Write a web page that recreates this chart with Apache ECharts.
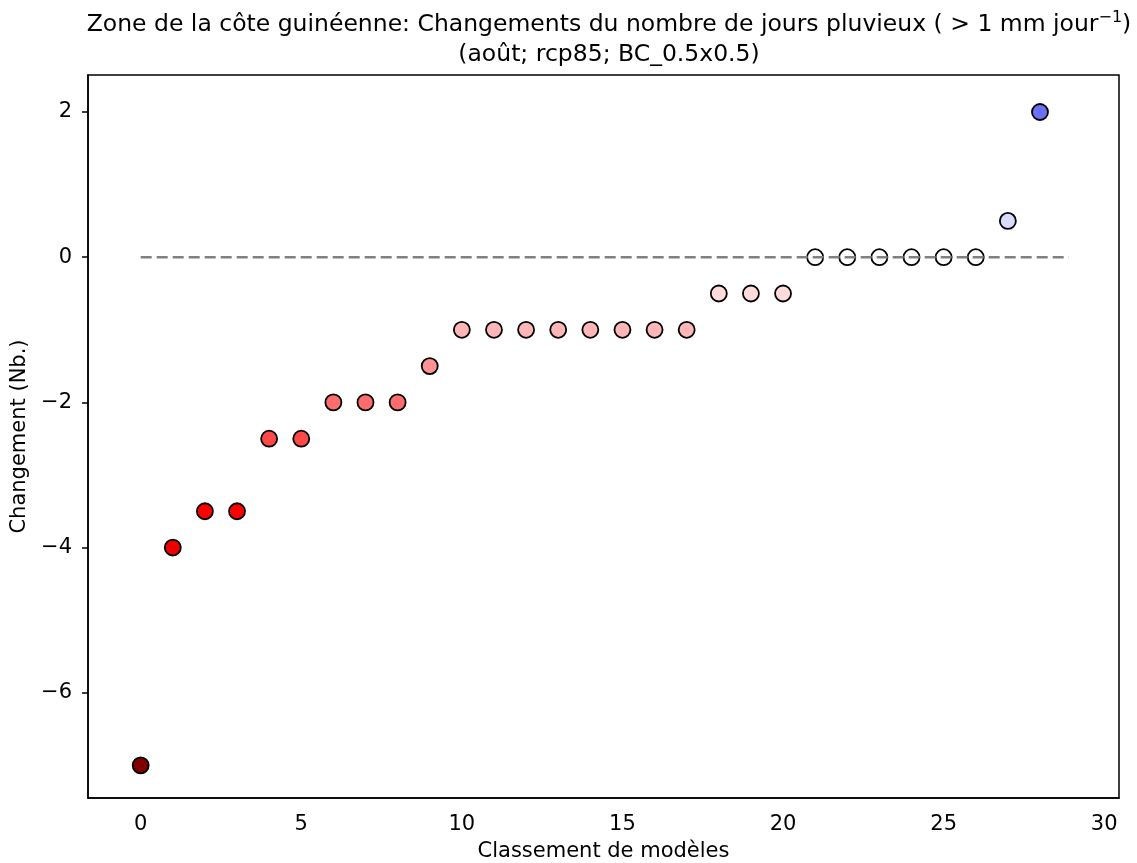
<!DOCTYPE html>
<html>
<head>
<meta charset="utf-8">
<script src="https://cdn.jsdelivr.net/npm/echarts@6/dist/echarts.min.js"></script>
<style>
  html, body { margin: 0; padding: 0; background: #fff; }
  #main { width: 1137px; height: 863px; }
</style>
</head>
<body>
<div id="main"></div>
<script>
// model rank -> change in number of rainy days
const ranks = [0, 1, 2, 3, 4, 5, 6, 7, 8, 9, 10, 11, 12, 13, 14, 15, 16, 17, 18, 19, 20, 21, 22, 23, 24, 25, 26, 27, 28];
const changes = [-7, -4, -3.5, -3.5, -2.5, -2.5, -2, -2, -2, -1.5, -1, -1, -1, -1, -1, -1, -1, -1, -0.5, -0.5, -0.5, 0, 0, 0, 0, 0, 0, 0.5, 2];
const pointColors = [
  "#800000", "#ed0000", "#ff0000", "#ff0000", "#ff4949", "#ff4949", "#ff6d6d", "#ff6d6d", "#ff6d6d", "#ff9292",
  "#ffb6b6", "#ffb6b6", "#ffb6b6", "#ffb6b6", "#ffb6b6", "#ffb6b6", "#ffb6b6", "#ffb6b6",
  "#ffdbdb", "#ffdbdb", "#ffdbdb", "#ffffff", "#ffffff", "#ffffff", "#ffffff", "#ffffff", "#ffffff",
  "#dbdbff", "#6d6dff"
];
const zeroLine = [[0, 0], [28.9, 0]];
const xTicks = [0, 5, 10, 15, 20, 25, 30];
const yTicks = [-6, -4, -2, 0, 2];

const font = "DejaVu Sans";
const minus = (v) => String(v).replace("-", "\u2212");

const chart = echarts.init(document.getElementById("main"));

const points = ranks.map((r, i) => ({
  value: [r, changes[i]],
  itemStyle: { color: pointColors[i] }
}));

chart.setOption({
  animation: false,
  title: {
    text: "Zone de la côte guinéenne: Changements du nombre de jours pluvieux ( > 1 mm jour{sup|\u22121})\n(août; rcp85; BC_0.5x0.5)",
    left: 604,
    top: 5,
    textAlign: "center",
    textStyle: {
      fontFamily: font,
      fontSize: 23.5,
      fontWeight: "normal",
      color: "#000",
      lineHeight: 30,
      rich: {
        sup: { fontFamily: font, fontSize: 16, verticalAlign: "top", lineHeight: 20, padding: [0, 0, 12, 0] }
      }
    }
  },
  grid: {
    left: 88,
    right: 18,
    top: 75,
    bottom: 65,
    outerBoundsMode: "none",
    show: true,
    borderColor: "#000",
    borderWidth: 1.5,
    backgroundColor: "#fff"
  },
  xAxis: {
    type: "value",
    min: -1.64,
    max: 30.46,
    name: "Classement de modèles",
    nameLocation: "middle",
    nameGap: 43,
    nameTextStyle: { fontFamily: font, fontSize: 21, color: "#000" },
    splitLine: { show: false },
    axisLine: { show: true, onZero: false, lineStyle: { color: "#000", width: 1.5 } },
    axisTick: { show: false },
    axisLabel: {
      customValues: xTicks,
      fontFamily: font,
      fontSize: 21,
      color: "#000",
      margin: 16,
      formatter: minus
    }
  },
  yAxis: {
    type: "value",
    min: -7.45,
    max: 2.51,
    name: "Changement (Nb.)",
    nameLocation: "middle",
    nameGap: 56,
    nameTextStyle: { fontFamily: font, fontSize: 21, color: "#000" },
    splitLine: { show: false },
    axisLine: { show: true, onZero: false, lineStyle: { color: "#000", width: 1.5 } },
    axisTick: { show: true, customValues: yTicks, length: 6, lineStyle: { color: "#000", width: 1.5 } },
    axisLabel: {
      customValues: yTicks,
      fontFamily: font,
      fontSize: 21,
      color: "#000",
      margin: 16,
      formatter: minus
    }
  },
  series: [
    {
      type: "line",
      data: zeroLine,
      symbol: "none",
      silent: true,
      lineStyle: { color: "#808080", width: 2.5, type: [11, 5] }
    },
    {
      type: "scatter",
      data: points,
      symbol: "circle",
      symbolSize: 16,
      itemStyle: { borderColor: "#000", borderWidth: 1.8, opacity: 1 }
    }
  ]
});
</script>
</body>
</html>
